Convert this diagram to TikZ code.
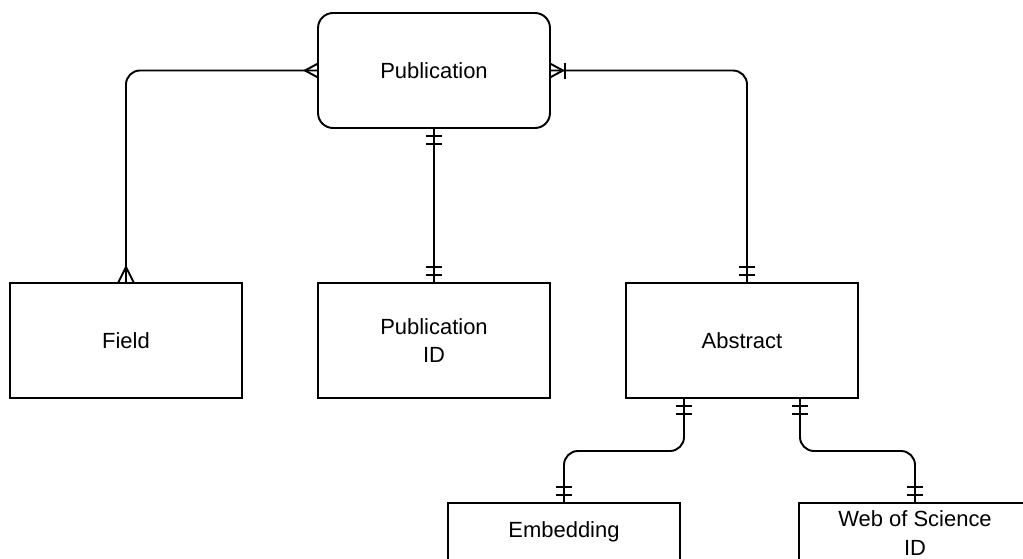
\documentclass[tikz,border=0pt]{standalone}
\usepackage{fontspec}
\setmainfont{Liberation Sans}
\usetikzlibrary{calc,positioning}
\tikzset{
  ent/.style={draw, line width=1.1pt, minimum width=4.64cm, minimum height=2.3cm,
    inner sep=0pt, outer sep=0pt, align=center, font=\fontsize{12.5}{16}\selectfont},
  txt/.style={align=center, inner sep=0pt, font=\fontsize{12.5}{16}\selectfont},
  conn/.style={line width=1.1pt, rounded corners=0.28cm},
  tick/.style={line width=1.1pt},
}
% one bar across a vertical connector
\newcommand{\tickh}[1]{\draw[tick] ($#1+(-8,0)$) -- ($#1+(8,0)$);}
% two bars (one and only one), #2 points away from the entity
\newcommand{\dbar}[2]{\tickh{#1+8*#2}\tickh{#1+16*#2}}

\begin{document}
\begin{tikzpicture}[x=0.02cm, y=-0.02cm]
    \useasboundingbox (0,0) rectangle (1023,558);
    \clip (0,0) rectangle (1023,558);
    % entities
    \node[ent, rounded corners=0.3cm] (pub) at (434,70.5) {Publication};
    \node[ent] (field) at (126,340.5) {Field};
    \node[ent] (pubid) at (434,340.5) {Publication\\ID};
    \node[ent] (abs) at (742,340.5) {Abstract};
    \node[ent] (emb) at (564,560.5) {};
    \node[ent] (wos) at (915,560.5) {};
    \node[txt] (embtxt) at (564,532) {Embedding};
    \node[txt] (wostxt) at (915,533) {Web of Science\\ID};
    % connector ends
    \coordinate (absin) at ($(abs.north)+(5,0)$);
    \coordinate (absl) at ($(abs.south)+(-58,0)$);
    \coordinate (absr) at ($(abs.south)+(58,0)$);
    % relations
    \draw[conn] (pub.west) -| (field.north);
    \draw[conn] (pub.east) -| (absin);
    \draw[conn] (pub.south) -- (pubid.north);
    \draw[conn] (absl) -- ++(0,53) -| (emb.north);
    \draw[conn] (absr) -- ++(0,53) -| (wos.north);
    % many
    \draw[tick] ($(pub.west)+(0,-7)$) -- ($(pub.west)+(-13,0)$) -- ($(pub.west)+(0,7)$);
    \draw[tick] ($(field.north)+(-8,0)$) -- ($(field.north)+(0,-16)$) -- ($(field.north)+(8,0)$);
    % one or many
    \draw[tick] ($(pub.east)+(0,-7)$) -- ($(pub.east)+(13,0)$) -- ($(pub.east)+(0,7)$);
    \draw[tick] ($(pub.east)+(15,-8)$) -- ($(pub.east)+(15,8)$);
    % one and only one
    \dbar{(pub.south)}{(0,1)}
    \dbar{(pubid.north)}{(0,-1)}
    \dbar{(absin)}{(0,-1)}
    \dbar{(absl)}{(0,1)}
    \dbar{(absr)}{(0,1)}
    \dbar{(emb.north)}{(0,-1)}
    \dbar{(wos.north)}{(0,-1)}
\end{tikzpicture}
\end{document}
